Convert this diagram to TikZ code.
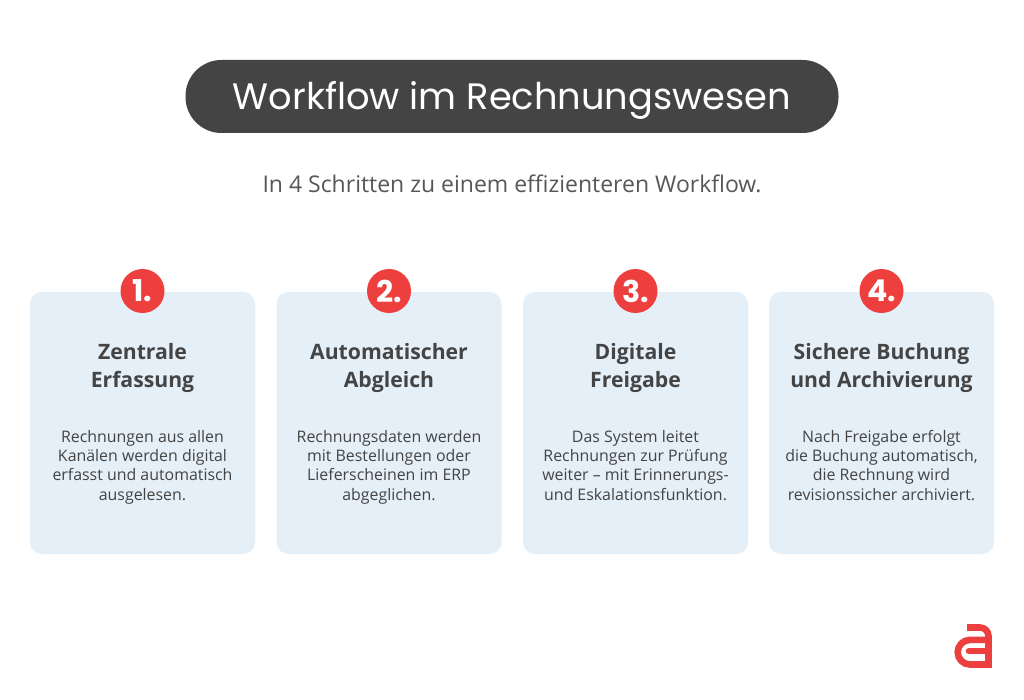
\documentclass[tikz,border=0pt]{standalone}
\usepackage{fontspec}
\setmainfont{Open Sans}
\newfontfamily\titlefont{Poppins}
\usepackage{xcolor}
\definecolor{darkpill}{HTML}{444444}
\definecolor{cardblue}{HTML}{E4EFF8}
\definecolor{stepred}{HTML}{EE3F3F}
\definecolor{inktext}{HTML}{444444}
\tikzset{
	card/.style={fill=cardblue,rounded corners=12pt},
	badge/.style={circle,fill=stepred,text=white,minimum size=44pt,inner sep=0pt,font=\titlefont\bfseries\fontsize{30}{30}\selectfont},
	cardhead/.style={text=inktext,align=center,font=\bfseries\fontsize{21.2}{27.5}\selectfont},
	cardtext/.style={text=inktext,align=center,text height=8pt,text depth=8pt,font=\fontsize{15.9}{19.25}\selectfont},
	logostroke/.style={draw=stepred,line width=6.6pt}
}
\begin{document}
\begin{tikzpicture}[x=1pt,y=-1pt]
	\useasboundingbox[fill=white] (0,0) rectangle (1024,700);
	\node[fill=darkpill,rounded corners=36pt,minimum width=653pt,minimum height=73pt,inner sep=0pt,text=white,text height=27pt,text depth=0pt,font=\titlefont\fontsize{36.8}{36.8}\selectfont] (title) at (512,96.5) {Workflow im Rechnungswesen};
	\node[text=inktext!90,font=\fontsize{23}{23}\selectfont] (subtitle) at (512,184) {In 4 Schritten zu einem effizienteren Workflow.};

	\fill[card] (30,292) rectangle (255,554);
	\fill[card] (276.5,292) rectangle (501.5,554);
	\fill[card] (523,292) rectangle (748,554);
	\fill[card] (769,292) rectangle (994,554);

	\node[badge] (badge1) at (142.5,291) {1.};
	\node[badge] (badge2) at (389,291) {2.};
	\node[badge] (badge3) at (635.5,291) {3.};
	\node[badge] (badge4) at (881.5,291) {4.};

	\node[cardhead] (head1) at (142.5,368) {Zentrale\\Erfassung};
	\node[cardhead] (head2) at (389,368) {Automatischer\\Abgleich};
	\node[cardhead] (head3) at (635.5,368) {Digitale\\Freigabe};
	\node[cardhead] (head4) at (881.5,368) {Sichere Buchung\\und Archivierung};

	\node[cardtext] (text1) at (142.5,500) {Rechnungen aus allen\\Kanälen werden digital\\erfasst und automatisch\\ausgelesen.};
	\node[cardtext] (text2) at (389,500) {Rechnungsdaten werden\\mit Bestellungen oder\\Lieferscheinen im ERP\\abgeglichen.};
	\node[cardtext] (text3) at (635.5,500) {Das System leitet\\Rechnungen zur Prüfung\\weiter – mit Erinnerungs-\\und Eskalationsfunktion.};
	\node[cardtext] (text4) at (881.5,500) {Nach Freigabe erfolgt\\die Buchung automatisch,\\die Rechnung wird\\revisionssicher archiviert.};

	% logo
	\draw[logostroke] (967,627.5) -- (980,627.5) arc[start angle=-90,end angle=0,radius=8.5] -- (988.5,664.5) -- (970,664.5) arc[start angle=90,end angle=270,radius=12.3] -- (988.5,639.9);
	\draw[logostroke,line cap=round] (969,651) -- (988.5,651);
\end{tikzpicture}
\end{document}
